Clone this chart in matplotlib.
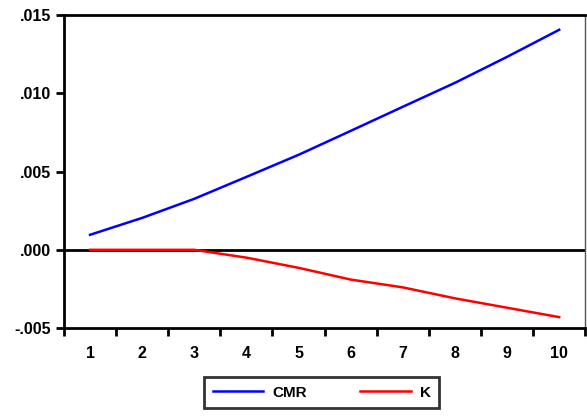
import matplotlib
matplotlib.use("Agg")
import matplotlib.pyplot as plt
from matplotlib.ticker import FuncFormatter, FixedLocator

periods = [1, 2, 3, 4, 5, 6, 7, 8, 9, 10]
cmr = [0.00096, 0.00204, 0.00326, 0.00466, 0.00607, 0.0076, 0.00914, 0.01067, 0.01233, 0.01406]
k = [0.0, 0.0, 0.0, -0.0005, -0.00115, -0.0019, -0.0024, -0.0031, -0.0037, -0.0043]
yticks = [-0.005, 0.0, 0.005, 0.010, 0.015]

plt.rcParams['font.family'] = ['Liberation Sans', 'DejaVu Sans']
fig = plt.figure(figsize=(5.87, 4.19), dpi=100)
ax = fig.add_axes([0.109, 0.217, 0.888, 0.747])

ax.axhline(0, color='black', lw=2, zorder=1)
ax.plot(periods, cmr, color='blue', lw=1.8, label='CMR', zorder=3)
ax.plot(periods, k, color='red', lw=1.8, label='K', zorder=3)

ax.set_xlim(0.5, 10.5)
ax.set_ylim(-0.005, 0.015)
ax.set_yticks(yticks)
ax.yaxis.set_major_formatter(FuncFormatter(lambda v, p: ('-' if v < -1e-12 else '') + ('%.3f' % abs(v))[1:]))
ax.set_xticks(periods)
ax.set_xticklabels([str(p) for p in periods])
ax.xaxis.set_minor_locator(FixedLocator([p + 0.5 for p in range(0, 11)]))
ax.tick_params(axis='x', which='major', length=0, pad=13)
ax.tick_params(axis='x', which='minor', length=6, width=2, direction='out')
ax.tick_params(axis='y', length=6, width=2, direction='out', pad=3)
for lab in ax.get_xticklabels() + ax.get_yticklabels():
    lab.set_fontweight('bold')
    lab.set_fontsize(11.5)
for s in ['left', 'bottom', 'top']:
    ax.spines[s].set_linewidth(2)
ax.spines['right'].set_linewidth(1)
ax.spines['right'].set_color('#555555')

leg = fig.legend(loc='center', bbox_to_anchor=(0.548, 0.063), ncol=2, frameon=True,
                 fancybox=False, edgecolor='black', prop={'size': 11, 'weight': 'bold'},
                 handlelength=3.3, handletextpad=0.6, columnspacing=3.5, borderpad=0.55,
                 borderaxespad=0)
leg.get_frame().set_linewidth(2)

fig.savefig('out.png', dpi=100)
